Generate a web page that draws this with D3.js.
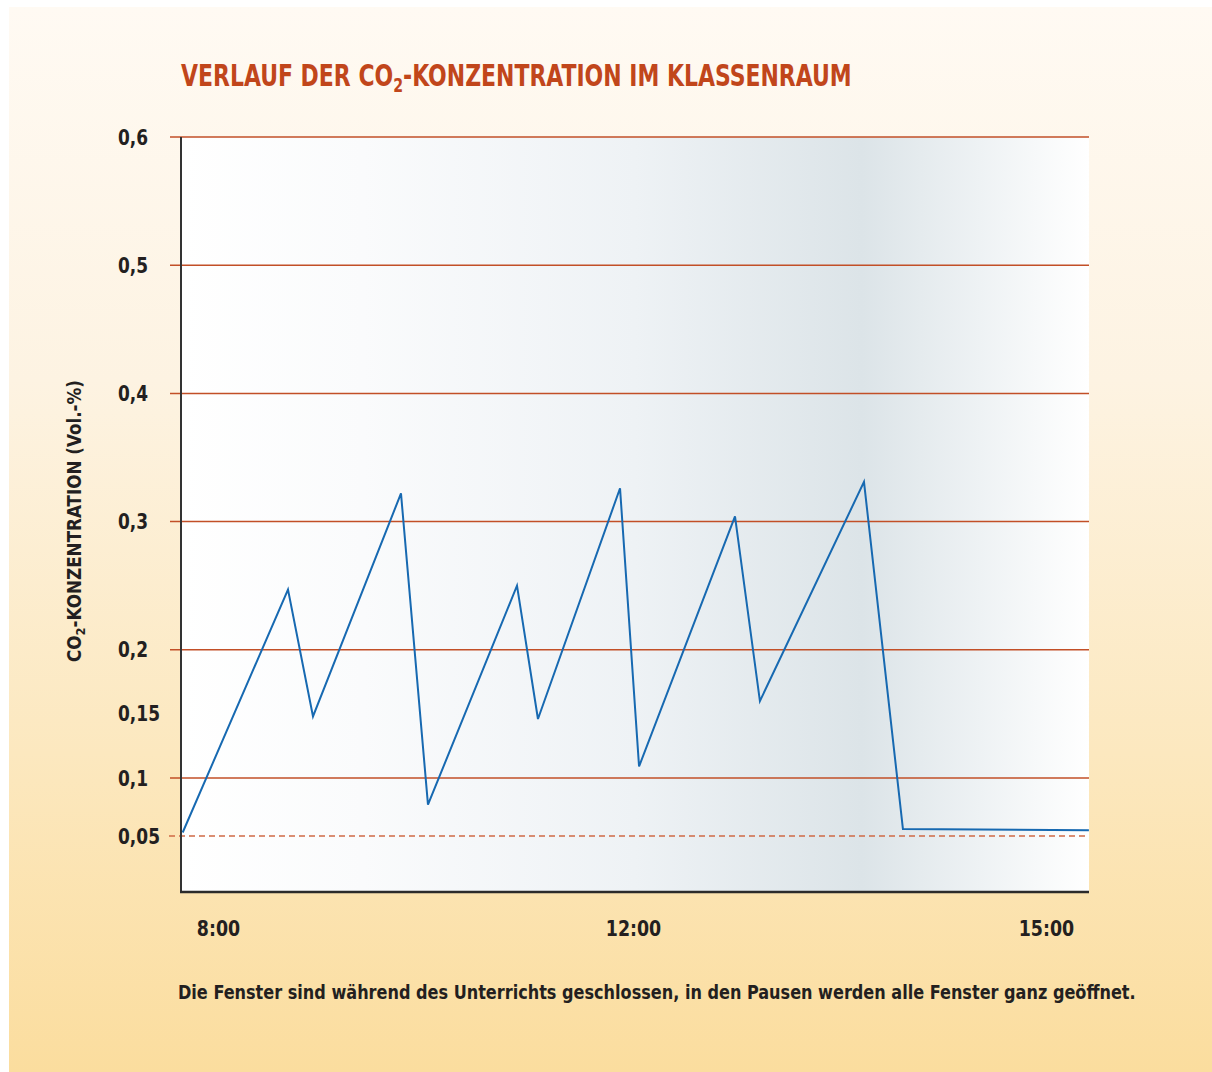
<!DOCTYPE html>
<html lang="de">
<head>
<meta charset="utf-8">
<title>Verlauf der CO2-Konzentration im Klassenraum</title>
<script src="https://cdn.jsdelivr.net/npm/d3@7"></script>
<style>
  html, body { margin: 0; padding: 0; background: #ffffff; }
  svg { display: block; }
  text { font-family: "DejaVu Sans Condensed", "Liberation Sans Narrow", "Roboto", sans-serif; font-weight: bold; }
</style>
</head>
<body>
<div id="chart"></div>
<script>
// Uhrzeit der Messpunkte (Stunden, dezimal)
const times = [7.66, 8.675, 8.916, 9.764, 10.024, 10.882, 11.084, 11.875, 12.044, 12.741, 12.922, 13.678, 13.961, 15.312];
// CO2-Konzentration in Vol.-%
const co2 = [0.053, 0.247, 0.148, 0.322, 0.077, 0.250, 0.146, 0.326, 0.109, 0.304, 0.160, 0.331, 0.056, 0.055];

// Achsenbeschriftungen
const xTickValues = [8, 12, 15];
const xTickLabels = ["8:00", "12:00", "15:00"];
const yTickValues = [0.05, 0.1, 0.15, 0.2, 0.3, 0.4, 0.5, 0.6];
const yTickLabels = ["0,05", "0,1", "0,15", "0,2", "0,3", "0,4", "0,5", "0,6"];
const gridValues = [0.1, 0.2, 0.3, 0.4, 0.5, 0.6];
const referenceValue = 0.05; // Außenluft

const W = 1212, H = 1072;
const margin = { top: 137, left: 181 };
const width = 908, height = 755;

const svg = d3.select("#chart").append("svg")
  .attr("width", W).attr("height", H);

// Text horizontal auf eine Zielbreite stauchen (schmale Auszeichnungsschrift)
function fitWidth(sel, target, ox, oy) {
  const w = sel.node().getComputedTextLength();
  const s = target / w;
  sel.attr("transform", `translate(${ox},${oy}) scale(${s},1) translate(${-ox},${-oy})`);
}

const defs = svg.append("defs");
const bgGrad = defs.append("linearGradient").attr("id", "bgGrad")
  .attr("x1", 0).attr("y1", 0).attr("x2", 0).attr("y2", 1);
[[0, "#fffaf3"], [0.35, "#fdf3e2"], [0.7, "#fce8bf"], [1, "#fbdd9e"]]
  .forEach(([o, c]) => bgGrad.append("stop").attr("offset", o).attr("stop-color", c));

const plotGrad = defs.append("linearGradient").attr("id", "plotGrad")
  .attr("x1", 0).attr("y1", 0).attr("x2", 1).attr("y2", 0);
[[0, "#ffffff"], [0.2, "#fafbfc"], [0.5, "#eef2f5"], [0.75, "#dce4e8"], [0.88, "#eef2f4"], [1, "#ffffff"]]
  .forEach(([o, c]) => plotGrad.append("stop").attr("offset", o).attr("stop-color", c));

// Hintergrundfläche
svg.append("rect").attr("x", 9).attr("y", 7).attr("width", W - 9).attr("height", H - 7)
  .attr("fill", "url(#bgGrad)");

// Titel
const title = svg.append("text")
  .attr("x", margin.left).attr("y", 86)
  .attr("fill", "#c1461b").attr("font-size", 31);
title.append("tspan").text("VERLAUF DER CO");
title.append("tspan").attr("font-size", 20).attr("dy", 6).text("2");
title.append("tspan").attr("dy", -6).text("-KONZENTRATION IM KLASSENRAUM");
fitWidth(title, 671, margin.left, 86);

const g = svg.append("g").attr("transform", `translate(${margin.left},${margin.top})`);

// Zeitachse: ungleichmäßig gestauchte Abschnitte
const x = d3.scaleLinear()
  .domain([8, 12, 15])
  .range([width * 0.0407, width * 0.4978, width * 0.9526]);

// Konzentrationsachse mit gestrecktem unteren Bereich
const y = d3.scaleLinear()
  .domain([0.05, 0.1, 0.6])
  .range([height * 0.9258, height * 0.849, 0]);

g.append("rect").attr("width", width).attr("height", height).attr("fill", "url(#plotGrad)");

// Gitterlinien
g.selectAll("line.grid").data(gridValues).join("line")
  .attr("class", "grid")
  .attr("x1", -11).attr("x2", width)
  .attr("y1", d => y(d)).attr("y2", d => y(d))
  .attr("stroke", "#c24f27").attr("stroke-width", 1.5);

// Referenzlinie 0,05
g.append("line")
  .attr("x1", -12).attr("x2", width)
  .attr("y1", y(referenceValue)).attr("y2", y(referenceValue))
  .attr("stroke", "#cf6a45").attr("stroke-width", 1.3)
  .attr("stroke-dasharray", "6,4");

// y-Achse (nur Beschriftung, linksbündig)
const yLabelX = -63, ySx = 0.86;
const yAxis = d3.axisLeft(y)
  .tickValues(yTickValues)
  .tickFormat((d, i) => yTickLabels[i])
  .tickSize(0);
const yAxisG = g.append("g").call(yAxis);
yAxisG.select(".domain").remove();
yAxisG.selectAll("text")
  .attr("text-anchor", "start")
  .attr("x", yLabelX / ySx)
  .attr("transform", `scale(${ySx},1)`)
  .attr("font-size", 22).attr("fill", "#231f20")
  .attr("font-family", null);

// x-Achse (nur Beschriftung)
const xAxis = d3.axisBottom(x)
  .tickValues(xTickValues)
  .tickFormat((d, i) => xTickLabels[i])
  .tickSize(0).tickPadding(28);
const xAxisG = g.append("g").attr("transform", `translate(0,${height})`).call(xAxis);
xAxisG.select(".domain").remove();
xAxisG.selectAll("text")
  .attr("transform", "scale(0.88,1)")
  .attr("font-size", 22).attr("fill", "#231f20")
  .attr("font-family", null);

// Achsenlinien
g.append("line").attr("x1", 0).attr("x2", 0).attr("y1", 0).attr("y2", height + 1)
  .attr("stroke", "#333333").attr("stroke-width", 2);
g.append("line").attr("x1", -1).attr("x2", width).attr("y1", height).attr("y2", height)
  .attr("stroke", "#2b2b2b").attr("stroke-width", 2.5);

// Messkurve
const line = d3.line().x(d => x(d[0])).y(d => y(d[1]));
g.append("path")
  .datum(d3.zip(times, co2))
  .attr("d", line)
  .attr("fill", "none")
  .attr("stroke", "#1769b1")
  .attr("stroke-width", 2)
  .attr("stroke-linejoin", "miter");

// y-Achsentitel
const yLabelG = svg.append("g").attr("transform", "translate(81,521) rotate(-90)");
const yLabel = yLabelG.append("text")
  .attr("text-anchor", "middle")
  .attr("fill", "#231f20").attr("font-size", 19);
yLabel.append("tspan").text("CO");
yLabel.append("tspan").attr("font-size", 13).attr("dy", 4).text("2");
yLabel.append("tspan").attr("dy", -4).text("-KONZENTRATION (Vol.-%)");
fitWidth(yLabel, 282, 0, 0);

// Fußnote
const note = svg.append("text")
  .attr("x", 178).attr("y", 999)
  .attr("fill", "#231f20").attr("font-size", 20)
  .text("Die Fenster sind während des Unterrichts geschlossen, in den Pausen werden alle Fenster ganz geöffnet.");
fitWidth(note, 958, 178, 999);
</script>
</body>
</html>
